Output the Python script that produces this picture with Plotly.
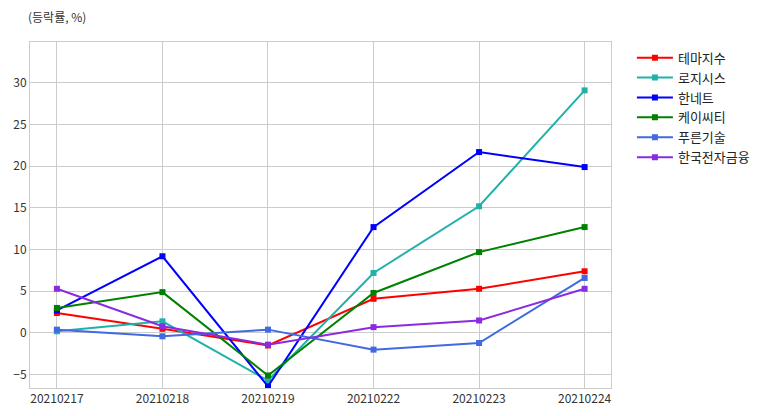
import plotly.graph_objects as go

dates = ["20210217", "20210218", "20210219", "20210222", "20210223", "20210224"]
series_names = ["테마지수", "로지시스", "한네트", "케이씨티", "푸른기술", "한국전자금융"]
theme = [2.4, 0.5, -1.5, 4.1, 5.3, 7.4]
logisys = [0.2, 1.4, -5.7, 7.2, 15.2, 29.1]
hannet = [2.7, 9.2, -6.4, 12.7, 21.7, 19.9]
kcti = [3.0, 4.9, -5.1, 4.8, 9.7, 12.7]
purun = [0.4, -0.4, 0.4, -2.0, -1.2, 6.6]
hanjeon = [5.3, 0.8, -1.4, 0.7, 1.5, 5.3]
colors = ["#ff0000", "#20b2aa", "#0000ff", "#008000", "#4169e1", "#8a2be2"]
y_ticks = [-5, 0, 5, 10, 15, 20, 25, 30]

all_series = [theme, logisys, hannet, kcti, purun, hanjeon]
fig = go.Figure()
for name, vals, c in zip(series_names, all_series, colors):
    fig.add_trace(go.Scatter(
        x=list(range(len(dates))), y=vals, name=name, mode="lines+markers",
        line=dict(color=c, width=2), marker=dict(symbol="square", size=6, color=c),
    ))

font = "Noto Sans CJK KR"
fig.update_layout(
    width=759, height=400,
    margin=dict(l=22, r=156, t=34, b=20, autoexpand=False),
    paper_bgcolor="white", plot_bgcolor="white",
    font=dict(family=font, size=12, color="#333333"),
    showlegend=True,
    legend=dict(x=1.036, y=0.998, xanchor="left", yanchor="top",
                font=dict(size=13, color="#222222"), bgcolor="rgba(0,0,0,0)",
                tracegroupgap=0, itemwidth=36),
    annotations=[dict(text="(등락률, %)", xref="paper", yref="paper", x=0, y=1.0,
                      xanchor="left", yanchor="bottom", xshift=-4, yshift=15, showarrow=False,
                      font=dict(size=12, color="#333333", family=font))],
)
fig.update_xaxes(
    range=[-0.255, 5.25], tickmode="array", tickvals=list(range(len(dates))), ticktext=dates,
    showgrid=True, gridcolor="#cccccc", gridwidth=1, zeroline=False, automargin=False,
    showline=True, linecolor="#cccccc", linewidth=1, mirror=True, ticks="",
    tickfont=dict(size=12, color="#333333"),
)
fig.update_yaxes(
    range=[-6.6, 34.9], tickmode="array", tickvals=y_ticks,
    showgrid=True, gridcolor="#cccccc", gridwidth=1, zeroline=False, automargin=False,
    showline=True, linecolor="#cccccc", linewidth=1, mirror=True, ticks="",
    tickfont=dict(size=12, color="#333333"),
)
fig.write_html("out.html")
